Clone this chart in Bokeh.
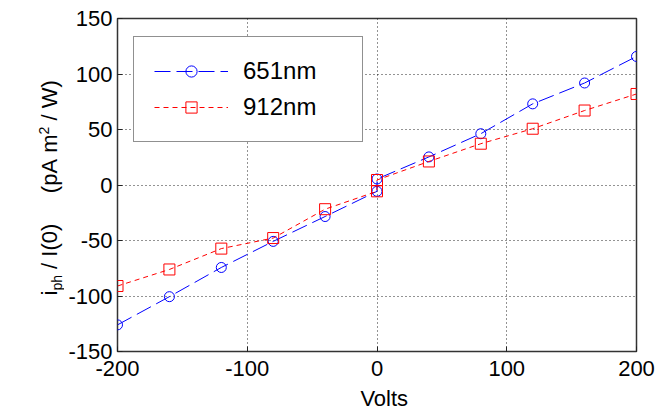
from bokeh.plotting import figure
from bokeh.models import Range1d, FixedTicker, Legend, LegendItem
from bokeh.layouts import row, column
from bokeh.core.properties import value
from bokeh.embed import file_html
from bokeh.resources import INLINE
import math

# ---- data ----
volts = [-200, -160, -120, -80, -40, 0, 0, 40, 80, 120, 160, 200]
i651 = [-126, -100.6, -74.3, -50.8, -28.4, -5.7, 5.4, 25.3, 46.2, 73.1, 91.9, 115.8]
i912 = [-91, -76.1, -57.3, -47.8, -21.8, -5.7, 4.5, 21.2, 37.2, 50.7, 67.1, 82]
x_ticks = [-200, -100, 0, 100, 200]
y_ticks = [-150, -100, -50, 0, 50, 100, 150]
series_names = ["651nm", "912nm"]
x_label = "Volts"
NB = "\u00a0"
y_label_parts = [("i", "n"), ("ph", "sub"), (NB + "/" + NB + "I(0)" + NB * 5 + "(pA" + NB + "m", "n"),
                 ("2", "sup"), (NB + "/" + NB + "W)", "n")]

FONT = "Liberation Sans"
W, H = 672, 411
LABW = 64                       # width of the y-label strip
FL, FT, FR, FB = 117, 18, 636, 351  # frame edges (absolute px)
MAIN_H = 385
XLAB_H = H - MAIN_H
MAIN_W = W - LABW

p = figure(width=MAIN_W, height=MAIN_H, output_backend="svg", toolbar_location=None,
           x_range=Range1d(-200, 200), y_range=Range1d(-150, 150),
           min_border_left=FL - LABW, min_border_top=FT, min_border_right=W - FR,
           min_border_bottom=MAIN_H - FB)
p.background_fill_color = "white"
p.border_fill_color = "white"
p.outline_line_color = "#333333"
p.outline_line_width = 1.5

for ax in (p.xaxis[0], p.yaxis[0]):
    ax.axis_line_color = None
    ax.major_tick_in = 5
    ax.major_tick_out = 0
    ax.minor_tick_line_color = None
    ax.major_tick_line_color = "#222222"
    ax.major_label_text_font = FONT
    ax.major_label_text_font_size = "22px"
    ax.major_label_text_color = "black"
p.xaxis[0].ticker = FixedTicker(ticks=x_ticks)
p.yaxis[0].ticker = FixedTicker(ticks=y_ticks)
p.xaxis[0].major_label_overrides = {t: str(t) for t in x_ticks}
p.yaxis[0].major_label_overrides = {t: str(t) for t in y_ticks}
p.xaxis[0].major_label_standoff = 9
p.yaxis[0].major_label_standoff = 5

for g in (p.xgrid[0], p.ygrid[0]):
    g.grid_line_color = "black"
    g.grid_line_dash = "1 3"
    g.grid_line_width = 1
    g.grid_line_alpha = 0.85
p.xgrid[0].ticker = FixedTicker(ticks=x_ticks)
p.ygrid[0].ticker = FixedTicker(ticks=y_ticks)

l1 = p.line(volts, i651, line_color="#0000ff", line_width=1, line_dash="16 6")
s1 = p.scatter(volts, i651, marker="circle", size=10, line_color="#0000ff",
               fill_color=None, line_width=1)
l2 = p.line(volts, i912, line_color="#ff0000", line_width=1, line_dash="5 4")
s2 = p.scatter(volts, i912, marker="square", size=11, line_color="#ff0000",
               fill_color=None, line_width=1)

legend = Legend(items=[LegendItem(label=series_names[0], renderers=[l1, s1]),
                       LegendItem(label=series_names[1], renderers=[l2, s2])],
                location=(133 - FL, FB - 142))
legend.label_text_font = FONT
legend.label_text_font_size = "24px"
legend.label_text_color = "black"
legend.border_line_color = "#222222"
legend.border_line_width = 1.5
legend.background_fill_color = "white"
legend.background_fill_alpha = 1
legend.padding = 20
legend.spacing = 8
legend.glyph_width = 74
legend.glyph_height = 28
legend.label_height = 28
legend.label_standoff = 15
legend.label_width = 99
legend.margin = 0
p.add_layout(legend, "center")

# ---- y-axis label strip (with subscript / superscript) ----
ylab = figure(width=LABW, height=H, output_backend="svg", toolbar_location=None,
              x_range=Range1d(0, LABW), y_range=Range1d(0, H),
              x_axis_type=None, y_axis_type=None, min_border=0)
ylab.outline_line_color = None
ylab.grid.visible = False
adv = {"i": 0.222, "p": 0.556, "h": 0.556, NB: 0.278, "/": 0.278, "I": 0.278,
       "(": 0.333, ")": 0.333, "0": 0.556, "A": 0.667, "m": 0.833, "2": 0.556, "W": 0.944}
# (font size, baseline x) ; text placed by its vertical middle line
styles = {"n": (22, 57), "sub": (14, 61), "sup": (14, 48)}
pos = 295  # px from top where the label starts
for txt, st in y_label_parts:
    fs, bx = styles[st]
    mid = bx - 0.3465 * fs
    ylab.text(x=[mid], y=[H - pos], text=[txt], angle=math.pi / 2,
              text_font=value(FONT), text_font_size=f"{fs}px", text_color="black",
              text_align="left", text_baseline="middle")
    pos -= sum(adv[c] for c in txt) * fs

# ---- x-axis label strip ----
xlab = figure(width=MAIN_W, height=XLAB_H, output_backend="svg", toolbar_location=None,
              x_range=Range1d(LABW, W), y_range=Range1d(H, MAIN_H),
              x_axis_type=None, y_axis_type=None, min_border=0)
xlab.outline_line_color = None
xlab.grid.visible = False
xlab.text(x=[(FL + FR) / 2], y=[398], text=[x_label], text_font=value(FONT),
          text_font_size="22px", text_color="black", text_align="center",
          text_baseline="middle")

layout = row(ylab, column(p, xlab, spacing=0), spacing=0)
open("out.html", "w").write(file_html(layout, INLINE))
